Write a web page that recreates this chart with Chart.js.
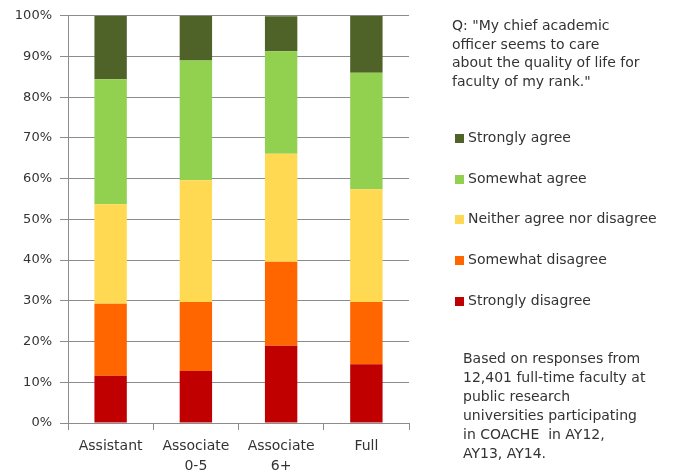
<!DOCTYPE html>
<html>
<head>
<meta charset="utf-8">
<script src="https://cdn.jsdelivr.net/npm/chart.js@4.4.1/dist/chart.umd.min.js"></script>
<style>
  body { margin: 0; background: #fff; }
  #wrap { position: relative; width: 684px; height: 472px; font-family: "DejaVu Sans", sans-serif; color: #333; }
  canvas { position: absolute; left: 0; top: 0; }
  .txt { position: absolute; font-size: 14px; white-space: nowrap; }
  #question { left: 452px; top: 16px; line-height: 18.7px; }
  #note { left: 463px; top: 349px; line-height: 19px; }
  #legend { left: 455px; top: 129px; }
  .item { height: 40.7px; display: flex; align-items: flex-start; }
  .box { width: 9px; height: 9px; margin-top: 5px; margin-right: 4px; }
</style>
</head>
<body>
<div id="wrap">
  <canvas id="chart" width="684" height="472"></canvas>
  <div class="txt" id="question">Q: "My chief academic<br>officer seems to care<br>about the quality of life for<br>faculty of my rank."</div>
  <div class="txt" id="legend"></div>
  <div class="txt" id="note">Based on responses from<br>12,401 full-time faculty at<br>public research<br>universities participating<br>in COACHE&nbsp; in AY12,<br>AY13, AY14.</div>
</div>
<script>
// categories (faculty rank)
const ranks = ["Assistant", ["Associate", "0-5"], ["Associate", "6+"], "Full"];

// percent of responses, bottom to top
const stronglyDisagree = [11.6, 12.8, 19.0, 14.4];
const somewhatDisagree = [17.7, 16.9, 20.6, 15.3];
const neither = [24.4, 29.9, 26.5, 27.7];
const somewhatAgree = [30.7, 29.4, 25.2, 28.6];
const stronglyAgree = [15.6, 11.0, 8.6, 14.0];

const yTicks = [0, 10, 20, 30, 40, 50, 60, 70, 80, 90, 100];

const gridColor = "#8c8c8c";

const datasets = [
  { label: "Strongly disagree", data: stronglyDisagree, backgroundColor: "#C00000" },
  { label: "Somewhat disagree", data: somewhatDisagree, backgroundColor: "#FF6600" },
  { label: "Neither agree nor disagree", data: neither, backgroundColor: "#FFD952" },
  { label: "Somewhat agree", data: somewhatAgree, backgroundColor: "#92D050" },
  { label: "Strongly agree", data: stronglyAgree, backgroundColor: "#4F6228" },
];
datasets.forEach((d) => {
  d.barPercentage = 0.76;
  d.categoryPercentage = 0.5;
  d.borderWidth = 0;
});

const config = {
  type: "bar",
  data: { labels: ranks, datasets: datasets },
  options: {
    responsive: false,
    animation: false,
    layout: { padding: { left: 0, right: 275, top: 15, bottom: 0 } },
    plugins: { legend: { display: false }, tooltip: { enabled: false } },
    scales: {
      x: {
        stacked: true,
        grid: { drawOnChartArea: false, drawTicks: true, tickLength: 7, color: gridColor, offset: true },
        border: { color: gridColor },
        ticks: { color: "#333", font: { family: "DejaVu Sans", size: 14, lineHeight: 1.4 }, padding: 7, maxRotation: 0 },
        afterFit: (scale) => { scale.height = 49; },
      },
      y: {
        stacked: true,
        min: 0,
        max: 100,
        afterBuildTicks: (scale) => { scale.ticks = yTicks.map((v) => ({ value: v })); },
        grid: { color: gridColor, tickLength: 8 },
        border: { color: gridColor },
        ticks: { color: "#333", font: { family: "DejaVu Sans", size: 13 }, padding: 8, callback: (v) => v + "%" },
        afterFit: (scale) => { scale.width = 68; },
      },
    },
  },
};

const chart = new Chart(document.getElementById("chart"), config);

// legend, top item is the top of the stack
const legend = document.getElementById("legend");
datasets.slice().reverse().forEach((d) => {
  const row = document.createElement("div");
  row.className = "item";
  row.innerHTML = '<span class="box" style="background:' + d.backgroundColor + '"></span>' + d.label;
  legend.appendChild(row);
});
</script>
</body>
</html>
